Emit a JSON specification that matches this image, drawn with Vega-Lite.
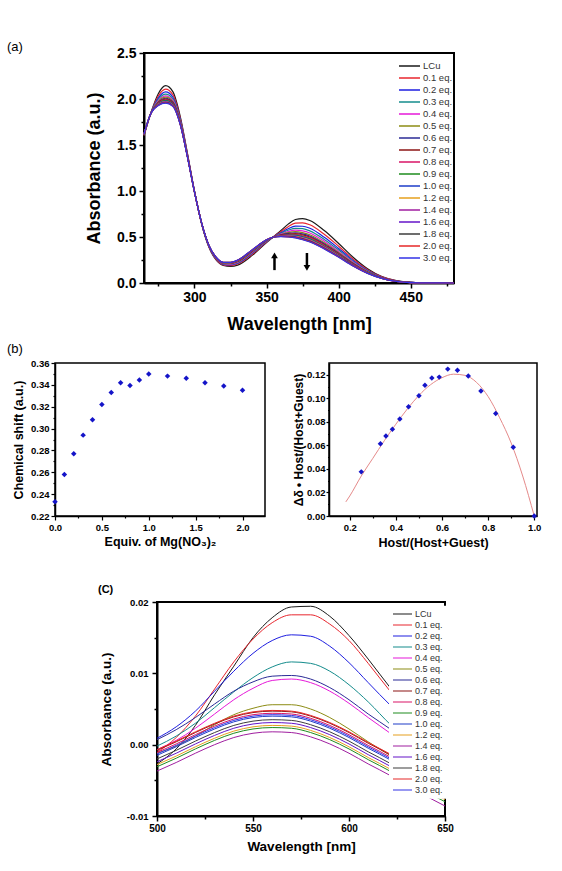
{
  "$schema": "https://vega.github.io/schema/vega-lite/v6.json",
  "padding": {"left": 5, "top": 40, "right": 5, "bottom": 5},
  "config": {
    "font": "Liberation Sans",
    "view": {"stroke": "#000"},
    "axis": {"grid": false, "labelFlush": false, "labelOverlap": false, "labelFont": "Liberation Sans", "titleFont": "Liberation Sans", "labelFontWeight": "bold", "titleFontWeight": "bold", "labelColor": "#000", "titleColor": "#000", "tickColor": "#000", "domainColor": "#000"},
    "title": {"font": "Liberation Sans", "color": "#000"},
    "legend": {"labelFont": "Liberation Sans", "labelColor": "#333"}
  },
  "datasets": {
    "uv": [
      {"s":"LCu","w":265,"a":1.6},{"s":"LCu","w":270,"a":1.86},{"s":"LCu","w":275,"a":2.06},{"s":"LCu","w":280,"a":2.145},{"s":"LCu","w":285,"a":2.08},{"s":"LCu","w":290,"a":1.82},{"s":"LCu","w":295,"a":1.42},{"s":"LCu","w":300,"a":1.0},{"s":"LCu","w":305,"a":0.64},{"s":"LCu","w":310,"a":0.39},{"s":"LCu","w":315,"a":0.25},{"s":"LCu","w":320,"a":0.19},{"s":"LCu","w":325,"a":0.18},{"s":"LCu","w":330,"a":0.195},{"s":"LCu","w":340,"a":0.3},{"s":"LCu","w":350,"a":0.44},{"s":"LCu","w":355,"a":0.505},{"s":"LCu","w":360,"a":0.57},{"s":"LCu","w":365,"a":0.64},{"s":"LCu","w":370,"a":0.69},{"s":"LCu","w":375,"a":0.7},{"s":"LCu","w":380,"a":0.68},{"s":"LCu","w":390,"a":0.57},{"s":"LCu","w":400,"a":0.43},{"s":"LCu","w":410,"a":0.28},{"s":"LCu","w":420,"a":0.155},{"s":"LCu","w":430,"a":0.07},{"s":"LCu","w":440,"a":0.025},{"s":"LCu","w":450,"a":0.007},{"s":"LCu","w":465,"a":0.001},{"s":"LCu","w":480,"a":0},
      {"s":"0.1 eq.","w":265,"a":1.604},{"s":"0.1 eq.","w":270,"a":1.858},{"s":"0.1 eq.","w":275,"a":2.034},{"s":"0.1 eq.","w":280,"a":2.107},{"s":"0.1 eq.","w":285,"a":2.048},{"s":"0.1 eq.","w":290,"a":1.802},{"s":"0.1 eq.","w":295,"a":1.412},{"s":"0.1 eq.","w":300,"a":0.998},{"s":"0.1 eq.","w":305,"a":0.642},{"s":"0.1 eq.","w":310,"a":0.394},{"s":"0.1 eq.","w":315,"a":0.256},{"s":"0.1 eq.","w":320,"a":0.197},{"s":"0.1 eq.","w":325,"a":0.189},{"s":"0.1 eq.","w":330,"a":0.206},{"s":"0.1 eq.","w":340,"a":0.312},{"s":"0.1 eq.","w":350,"a":0.446},{"s":"0.1 eq.","w":355,"a":0.504},{"s":"0.1 eq.","w":360,"a":0.557},{"s":"0.1 eq.","w":365,"a":0.612},{"s":"0.1 eq.","w":370,"a":0.65},{"s":"0.1 eq.","w":375,"a":0.654},{"s":"0.1 eq.","w":380,"a":0.633},{"s":"0.1 eq.","w":390,"a":0.53},{"s":"0.1 eq.","w":400,"a":0.4},{"s":"0.1 eq.","w":410,"a":0.261},{"s":"0.1 eq.","w":420,"a":0.145},{"s":"0.1 eq.","w":430,"a":0.066},{"s":"0.1 eq.","w":440,"a":0.024},{"s":"0.1 eq.","w":450,"a":0.007},{"s":"0.1 eq.","w":465,"a":0.001},{"s":"0.1 eq.","w":480,"a":0},
      {"s":"0.2 eq.","w":265,"a":1.607},{"s":"0.2 eq.","w":270,"a":1.856},{"s":"0.2 eq.","w":275,"a":2.013},{"s":"0.2 eq.","w":280,"a":2.077},{"s":"0.2 eq.","w":285,"a":2.022},{"s":"0.2 eq.","w":290,"a":1.788},{"s":"0.2 eq.","w":295,"a":1.406},{"s":"0.2 eq.","w":300,"a":0.996},{"s":"0.2 eq.","w":305,"a":0.644},{"s":"0.2 eq.","w":310,"a":0.397},{"s":"0.2 eq.","w":315,"a":0.261},{"s":"0.2 eq.","w":320,"a":0.203},{"s":"0.2 eq.","w":325,"a":0.196},{"s":"0.2 eq.","w":330,"a":0.215},{"s":"0.2 eq.","w":340,"a":0.322},{"s":"0.2 eq.","w":350,"a":0.451},{"s":"0.2 eq.","w":355,"a":0.503},{"s":"0.2 eq.","w":360,"a":0.547},{"s":"0.2 eq.","w":365,"a":0.59},{"s":"0.2 eq.","w":370,"a":0.618},{"s":"0.2 eq.","w":375,"a":0.617},{"s":"0.2 eq.","w":380,"a":0.595},{"s":"0.2 eq.","w":390,"a":0.498},{"s":"0.2 eq.","w":400,"a":0.376},{"s":"0.2 eq.","w":410,"a":0.246},{"s":"0.2 eq.","w":420,"a":0.137},{"s":"0.2 eq.","w":430,"a":0.063},{"s":"0.2 eq.","w":440,"a":0.022},{"s":"0.2 eq.","w":450,"a":0.006},{"s":"0.2 eq.","w":465,"a":0.001},{"s":"0.2 eq.","w":480,"a":0},
      {"s":"0.3 eq.","w":265,"a":1.61},{"s":"0.3 eq.","w":270,"a":1.855},{"s":"0.3 eq.","w":275,"a":1.998},{"s":"0.3 eq.","w":280,"a":2.054},{"s":"0.3 eq.","w":285,"a":2.003},{"s":"0.3 eq.","w":290,"a":1.777},{"s":"0.3 eq.","w":295,"a":1.401},{"s":"0.3 eq.","w":300,"a":0.995},{"s":"0.3 eq.","w":305,"a":0.645},{"s":"0.3 eq.","w":310,"a":0.4},{"s":"0.3 eq.","w":315,"a":0.264},{"s":"0.3 eq.","w":320,"a":0.207},{"s":"0.3 eq.","w":325,"a":0.202},{"s":"0.3 eq.","w":330,"a":0.221},{"s":"0.3 eq.","w":340,"a":0.329},{"s":"0.3 eq.","w":350,"a":0.454},{"s":"0.3 eq.","w":355,"a":0.503},{"s":"0.3 eq.","w":360,"a":0.539},{"s":"0.3 eq.","w":365,"a":0.573},{"s":"0.3 eq.","w":370,"a":0.594},{"s":"0.3 eq.","w":375,"a":0.59},{"s":"0.3 eq.","w":380,"a":0.567},{"s":"0.3 eq.","w":390,"a":0.474},{"s":"0.3 eq.","w":400,"a":0.358},{"s":"0.3 eq.","w":410,"a":0.234},{"s":"0.3 eq.","w":420,"a":0.131},{"s":"0.3 eq.","w":430,"a":0.06},{"s":"0.3 eq.","w":440,"a":0.022},{"s":"0.3 eq.","w":450,"a":0.006},{"s":"0.3 eq.","w":465,"a":0.001},{"s":"0.3 eq.","w":480,"a":0},
      {"s":"0.4 eq.","w":265,"a":1.612},{"s":"0.4 eq.","w":270,"a":1.854},{"s":"0.4 eq.","w":275,"a":1.985},{"s":"0.4 eq.","w":280,"a":2.035},{"s":"0.4 eq.","w":285,"a":1.987},{"s":"0.4 eq.","w":290,"a":1.768},{"s":"0.4 eq.","w":295,"a":1.397},{"s":"0.4 eq.","w":300,"a":0.994},{"s":"0.4 eq.","w":305,"a":0.646},{"s":"0.4 eq.","w":310,"a":0.402},{"s":"0.4 eq.","w":315,"a":0.267},{"s":"0.4 eq.","w":320,"a":0.21},{"s":"0.4 eq.","w":325,"a":0.206},{"s":"0.4 eq.","w":330,"a":0.227},{"s":"0.4 eq.","w":340,"a":0.335},{"s":"0.4 eq.","w":350,"a":0.457},{"s":"0.4 eq.","w":355,"a":0.502},{"s":"0.4 eq.","w":360,"a":0.532},{"s":"0.4 eq.","w":365,"a":0.559},{"s":"0.4 eq.","w":370,"a":0.574},{"s":"0.4 eq.","w":375,"a":0.567},{"s":"0.4 eq.","w":380,"a":0.544},{"s":"0.4 eq.","w":390,"a":0.454},{"s":"0.4 eq.","w":400,"a":0.343},{"s":"0.4 eq.","w":410,"a":0.225},{"s":"0.4 eq.","w":420,"a":0.126},{"s":"0.4 eq.","w":430,"a":0.058},{"s":"0.4 eq.","w":440,"a":0.021},{"s":"0.4 eq.","w":450,"a":0.006},{"s":"0.4 eq.","w":465,"a":0.001},{"s":"0.4 eq.","w":480,"a":0},
      {"s":"0.5 eq.","w":265,"a":1.613},{"s":"0.5 eq.","w":270,"a":1.853},{"s":"0.5 eq.","w":275,"a":1.974},{"s":"0.5 eq.","w":280,"a":2.02},{"s":"0.5 eq.","w":285,"a":1.974},{"s":"0.5 eq.","w":290,"a":1.761},{"s":"0.5 eq.","w":295,"a":1.394},{"s":"0.5 eq.","w":300,"a":0.993},{"s":"0.5 eq.","w":305,"a":0.647},{"s":"0.5 eq.","w":310,"a":0.403},{"s":"0.5 eq.","w":315,"a":0.27},{"s":"0.5 eq.","w":320,"a":0.213},{"s":"0.5 eq.","w":325,"a":0.21},{"s":"0.5 eq.","w":330,"a":0.231},{"s":"0.5 eq.","w":340,"a":0.34},{"s":"0.5 eq.","w":350,"a":0.46},{"s":"0.5 eq.","w":355,"a":0.502},{"s":"0.5 eq.","w":360,"a":0.527},{"s":"0.5 eq.","w":365,"a":0.548},{"s":"0.5 eq.","w":370,"a":0.558},{"s":"0.5 eq.","w":375,"a":0.548},{"s":"0.5 eq.","w":380,"a":0.525},{"s":"0.5 eq.","w":390,"a":0.438},{"s":"0.5 eq.","w":400,"a":0.331},{"s":"0.5 eq.","w":410,"a":0.217},{"s":"0.5 eq.","w":420,"a":0.122},{"s":"0.5 eq.","w":430,"a":0.057},{"s":"0.5 eq.","w":440,"a":0.02},{"s":"0.5 eq.","w":450,"a":0.006},{"s":"0.5 eq.","w":465,"a":0.001},{"s":"0.5 eq.","w":480,"a":0},
      {"s":"0.6 eq.","w":265,"a":1.614},{"s":"0.6 eq.","w":270,"a":1.853},{"s":"0.6 eq.","w":275,"a":1.966},{"s":"0.6 eq.","w":280,"a":2.008},{"s":"0.6 eq.","w":285,"a":1.965},{"s":"0.6 eq.","w":290,"a":1.755},{"s":"0.6 eq.","w":295,"a":1.391},{"s":"0.6 eq.","w":300,"a":0.993},{"s":"0.6 eq.","w":305,"a":0.647},{"s":"0.6 eq.","w":310,"a":0.404},{"s":"0.6 eq.","w":315,"a":0.272},{"s":"0.6 eq.","w":320,"a":0.215},{"s":"0.6 eq.","w":325,"a":0.212},{"s":"0.6 eq.","w":330,"a":0.235},{"s":"0.6 eq.","w":340,"a":0.343},{"s":"0.6 eq.","w":350,"a":0.462},{"s":"0.6 eq.","w":355,"a":0.501},{"s":"0.6 eq.","w":360,"a":0.523},{"s":"0.6 eq.","w":365,"a":0.539},{"s":"0.6 eq.","w":370,"a":0.546},{"s":"0.6 eq.","w":375,"a":0.534},{"s":"0.6 eq.","w":380,"a":0.511},{"s":"0.6 eq.","w":390,"a":0.426},{"s":"0.6 eq.","w":400,"a":0.322},{"s":"0.6 eq.","w":410,"a":0.212},{"s":"0.6 eq.","w":420,"a":0.119},{"s":"0.6 eq.","w":430,"a":0.056},{"s":"0.6 eq.","w":440,"a":0.02},{"s":"0.6 eq.","w":450,"a":0.006},{"s":"0.6 eq.","w":465,"a":0.001},{"s":"0.6 eq.","w":480,"a":0},
      {"s":"0.7 eq.","w":265,"a":1.615},{"s":"0.7 eq.","w":270,"a":1.852},{"s":"0.7 eq.","w":275,"a":1.96},{"s":"0.7 eq.","w":280,"a":1.999},{"s":"0.7 eq.","w":285,"a":1.957},{"s":"0.7 eq.","w":290,"a":1.751},{"s":"0.7 eq.","w":295,"a":1.389},{"s":"0.7 eq.","w":300,"a":0.992},{"s":"0.7 eq.","w":305,"a":0.648},{"s":"0.7 eq.","w":310,"a":0.405},{"s":"0.7 eq.","w":315,"a":0.273},{"s":"0.7 eq.","w":320,"a":0.217},{"s":"0.7 eq.","w":325,"a":0.215},{"s":"0.7 eq.","w":330,"a":0.237},{"s":"0.7 eq.","w":340,"a":0.346},{"s":"0.7 eq.","w":350,"a":0.463},{"s":"0.7 eq.","w":355,"a":0.501},{"s":"0.7 eq.","w":360,"a":0.52},{"s":"0.7 eq.","w":365,"a":0.532},{"s":"0.7 eq.","w":370,"a":0.536},{"s":"0.7 eq.","w":375,"a":0.523},{"s":"0.7 eq.","w":380,"a":0.499},{"s":"0.7 eq.","w":390,"a":0.416},{"s":"0.7 eq.","w":400,"a":0.315},{"s":"0.7 eq.","w":410,"a":0.207},{"s":"0.7 eq.","w":420,"a":0.117},{"s":"0.7 eq.","w":430,"a":0.055},{"s":"0.7 eq.","w":440,"a":0.02},{"s":"0.7 eq.","w":450,"a":0.005},{"s":"0.7 eq.","w":465,"a":0.001},{"s":"0.7 eq.","w":480,"a":0},
      {"s":"0.8 eq.","w":265,"a":1.616},{"s":"0.8 eq.","w":270,"a":1.852},{"s":"0.8 eq.","w":275,"a":1.955},{"s":"0.8 eq.","w":280,"a":1.991},{"s":"0.8 eq.","w":285,"a":1.95},{"s":"0.8 eq.","w":290,"a":1.747},{"s":"0.8 eq.","w":295,"a":1.388},{"s":"0.8 eq.","w":300,"a":0.992},{"s":"0.8 eq.","w":305,"a":0.648},{"s":"0.8 eq.","w":310,"a":0.406},{"s":"0.8 eq.","w":315,"a":0.274},{"s":"0.8 eq.","w":320,"a":0.218},{"s":"0.8 eq.","w":325,"a":0.216},{"s":"0.8 eq.","w":330,"a":0.24},{"s":"0.8 eq.","w":340,"a":0.349},{"s":"0.8 eq.","w":350,"a":0.464},{"s":"0.8 eq.","w":355,"a":0.501},{"s":"0.8 eq.","w":360,"a":0.517},{"s":"0.8 eq.","w":365,"a":0.527},{"s":"0.8 eq.","w":370,"a":0.528},{"s":"0.8 eq.","w":375,"a":0.514},{"s":"0.8 eq.","w":380,"a":0.49},{"s":"0.8 eq.","w":390,"a":0.408},{"s":"0.8 eq.","w":400,"a":0.309},{"s":"0.8 eq.","w":410,"a":0.203},{"s":"0.8 eq.","w":420,"a":0.115},{"s":"0.8 eq.","w":430,"a":0.054},{"s":"0.8 eq.","w":440,"a":0.019},{"s":"0.8 eq.","w":450,"a":0.005},{"s":"0.8 eq.","w":465,"a":0.001},{"s":"0.8 eq.","w":480,"a":0},
      {"s":"0.9 eq.","w":265,"a":1.617},{"s":"0.9 eq.","w":270,"a":1.852},{"s":"0.9 eq.","w":275,"a":1.95},{"s":"0.9 eq.","w":280,"a":1.984},{"s":"0.9 eq.","w":285,"a":1.944},{"s":"0.9 eq.","w":290,"a":1.744},{"s":"0.9 eq.","w":295,"a":1.386},{"s":"0.9 eq.","w":300,"a":0.992},{"s":"0.9 eq.","w":305,"a":0.649},{"s":"0.9 eq.","w":310,"a":0.407},{"s":"0.9 eq.","w":315,"a":0.276},{"s":"0.9 eq.","w":320,"a":0.22},{"s":"0.9 eq.","w":325,"a":0.218},{"s":"0.9 eq.","w":330,"a":0.242},{"s":"0.9 eq.","w":340,"a":0.351},{"s":"0.9 eq.","w":350,"a":0.466},{"s":"0.9 eq.","w":355,"a":0.501},{"s":"0.9 eq.","w":360,"a":0.515},{"s":"0.9 eq.","w":365,"a":0.521},{"s":"0.9 eq.","w":370,"a":0.52},{"s":"0.9 eq.","w":375,"a":0.505},{"s":"0.9 eq.","w":380,"a":0.48},{"s":"0.9 eq.","w":390,"a":0.4},{"s":"0.9 eq.","w":400,"a":0.303},{"s":"0.9 eq.","w":410,"a":0.199},{"s":"0.9 eq.","w":420,"a":0.113},{"s":"0.9 eq.","w":430,"a":0.053},{"s":"0.9 eq.","w":440,"a":0.019},{"s":"0.9 eq.","w":450,"a":0.005},{"s":"0.9 eq.","w":465,"a":0.001},{"s":"0.9 eq.","w":480,"a":0},
      {"s":"1.0 eq.","w":265,"a":1.618},{"s":"1.0 eq.","w":270,"a":1.851},{"s":"1.0 eq.","w":275,"a":1.946},{"s":"1.0 eq.","w":280,"a":1.978},{"s":"1.0 eq.","w":285,"a":1.939},{"s":"1.0 eq.","w":290,"a":1.741},{"s":"1.0 eq.","w":295,"a":1.385},{"s":"1.0 eq.","w":300,"a":0.991},{"s":"1.0 eq.","w":305,"a":0.649},{"s":"1.0 eq.","w":310,"a":0.408},{"s":"1.0 eq.","w":315,"a":0.276},{"s":"1.0 eq.","w":320,"a":0.221},{"s":"1.0 eq.","w":325,"a":0.22},{"s":"1.0 eq.","w":330,"a":0.243},{"s":"1.0 eq.","w":340,"a":0.353},{"s":"1.0 eq.","w":350,"a":0.466},{"s":"1.0 eq.","w":355,"a":0.501},{"s":"1.0 eq.","w":360,"a":0.513},{"s":"1.0 eq.","w":365,"a":0.517},{"s":"1.0 eq.","w":370,"a":0.514},{"s":"1.0 eq.","w":375,"a":0.498},{"s":"1.0 eq.","w":380,"a":0.473},{"s":"1.0 eq.","w":390,"a":0.394},{"s":"1.0 eq.","w":400,"a":0.298},{"s":"1.0 eq.","w":410,"a":0.196},{"s":"1.0 eq.","w":420,"a":0.111},{"s":"1.0 eq.","w":430,"a":0.052},{"s":"1.0 eq.","w":440,"a":0.019},{"s":"1.0 eq.","w":450,"a":0.005},{"s":"1.0 eq.","w":465,"a":0.001},{"s":"1.0 eq.","w":480,"a":0},
      {"s":"1.2 eq.","w":265,"a":1.618},{"s":"1.2 eq.","w":270,"a":1.851},{"s":"1.2 eq.","w":275,"a":1.942},{"s":"1.2 eq.","w":280,"a":1.972},{"s":"1.2 eq.","w":285,"a":1.934},{"s":"1.2 eq.","w":290,"a":1.738},{"s":"1.2 eq.","w":295,"a":1.384},{"s":"1.2 eq.","w":300,"a":0.991},{"s":"1.2 eq.","w":305,"a":0.649},{"s":"1.2 eq.","w":310,"a":0.408},{"s":"1.2 eq.","w":315,"a":0.277},{"s":"1.2 eq.","w":320,"a":0.222},{"s":"1.2 eq.","w":325,"a":0.221},{"s":"1.2 eq.","w":330,"a":0.245},{"s":"1.2 eq.","w":340,"a":0.355},{"s":"1.2 eq.","w":350,"a":0.467},{"s":"1.2 eq.","w":355,"a":0.5},{"s":"1.2 eq.","w":360,"a":0.511},{"s":"1.2 eq.","w":365,"a":0.513},{"s":"1.2 eq.","w":370,"a":0.508},{"s":"1.2 eq.","w":375,"a":0.491},{"s":"1.2 eq.","w":380,"a":0.466},{"s":"1.2 eq.","w":390,"a":0.388},{"s":"1.2 eq.","w":400,"a":0.294},{"s":"1.2 eq.","w":410,"a":0.194},{"s":"1.2 eq.","w":420,"a":0.11},{"s":"1.2 eq.","w":430,"a":0.052},{"s":"1.2 eq.","w":440,"a":0.019},{"s":"1.2 eq.","w":450,"a":0.005},{"s":"1.2 eq.","w":465,"a":0.001},{"s":"1.2 eq.","w":480,"a":0},
      {"s":"1.4 eq.","w":265,"a":1.619},{"s":"1.4 eq.","w":270,"a":1.851},{"s":"1.4 eq.","w":275,"a":1.939},{"s":"1.4 eq.","w":280,"a":1.968},{"s":"1.4 eq.","w":285,"a":1.931},{"s":"1.4 eq.","w":290,"a":1.736},{"s":"1.4 eq.","w":295,"a":1.383},{"s":"1.4 eq.","w":300,"a":0.991},{"s":"1.4 eq.","w":305,"a":0.649},{"s":"1.4 eq.","w":310,"a":0.409},{"s":"1.4 eq.","w":315,"a":0.278},{"s":"1.4 eq.","w":320,"a":0.223},{"s":"1.4 eq.","w":325,"a":0.222},{"s":"1.4 eq.","w":330,"a":0.246},{"s":"1.4 eq.","w":340,"a":0.356},{"s":"1.4 eq.","w":350,"a":0.468},{"s":"1.4 eq.","w":355,"a":0.5},{"s":"1.4 eq.","w":360,"a":0.51},{"s":"1.4 eq.","w":365,"a":0.51},{"s":"1.4 eq.","w":370,"a":0.504},{"s":"1.4 eq.","w":375,"a":0.486},{"s":"1.4 eq.","w":380,"a":0.461},{"s":"1.4 eq.","w":390,"a":0.384},{"s":"1.4 eq.","w":400,"a":0.291},{"s":"1.4 eq.","w":410,"a":0.192},{"s":"1.4 eq.","w":420,"a":0.109},{"s":"1.4 eq.","w":430,"a":0.051},{"s":"1.4 eq.","w":440,"a":0.018},{"s":"1.4 eq.","w":450,"a":0.005},{"s":"1.4 eq.","w":465,"a":0.001},{"s":"1.4 eq.","w":480,"a":0},
      {"s":"1.6 eq.","w":265,"a":1.619},{"s":"1.6 eq.","w":270,"a":1.851},{"s":"1.6 eq.","w":275,"a":1.937},{"s":"1.6 eq.","w":280,"a":1.965},{"s":"1.6 eq.","w":285,"a":1.928},{"s":"1.6 eq.","w":290,"a":1.735},{"s":"1.6 eq.","w":295,"a":1.382},{"s":"1.6 eq.","w":300,"a":0.991},{"s":"1.6 eq.","w":305,"a":0.65},{"s":"1.6 eq.","w":310,"a":0.409},{"s":"1.6 eq.","w":315,"a":0.279},{"s":"1.6 eq.","w":320,"a":0.223},{"s":"1.6 eq.","w":325,"a":0.223},{"s":"1.6 eq.","w":330,"a":0.247},{"s":"1.6 eq.","w":340,"a":0.357},{"s":"1.6 eq.","w":350,"a":0.469},{"s":"1.6 eq.","w":355,"a":0.5},{"s":"1.6 eq.","w":360,"a":0.508},{"s":"1.6 eq.","w":365,"a":0.507},{"s":"1.6 eq.","w":370,"a":0.5},{"s":"1.6 eq.","w":375,"a":0.482},{"s":"1.6 eq.","w":380,"a":0.457},{"s":"1.6 eq.","w":390,"a":0.38},{"s":"1.6 eq.","w":400,"a":0.288},{"s":"1.6 eq.","w":410,"a":0.19},{"s":"1.6 eq.","w":420,"a":0.108},{"s":"1.6 eq.","w":430,"a":0.051},{"s":"1.6 eq.","w":440,"a":0.018},{"s":"1.6 eq.","w":450,"a":0.005},{"s":"1.6 eq.","w":465,"a":0.001},{"s":"1.6 eq.","w":480,"a":0},
      {"s":"1.8 eq.","w":265,"a":1.619},{"s":"1.8 eq.","w":270,"a":1.85},{"s":"1.8 eq.","w":275,"a":1.934},{"s":"1.8 eq.","w":280,"a":1.961},{"s":"1.8 eq.","w":285,"a":1.925},{"s":"1.8 eq.","w":290,"a":1.733},{"s":"1.8 eq.","w":295,"a":1.381},{"s":"1.8 eq.","w":300,"a":0.99},{"s":"1.8 eq.","w":305,"a":0.65},{"s":"1.8 eq.","w":310,"a":0.409},{"s":"1.8 eq.","w":315,"a":0.279},{"s":"1.8 eq.","w":320,"a":0.224},{"s":"1.8 eq.","w":325,"a":0.224},{"s":"1.8 eq.","w":330,"a":0.248},{"s":"1.8 eq.","w":340,"a":0.358},{"s":"1.8 eq.","w":350,"a":0.469},{"s":"1.8 eq.","w":355,"a":0.5},{"s":"1.8 eq.","w":360,"a":0.507},{"s":"1.8 eq.","w":365,"a":0.504},{"s":"1.8 eq.","w":370,"a":0.496},{"s":"1.8 eq.","w":375,"a":0.477},{"s":"1.8 eq.","w":380,"a":0.452},{"s":"1.8 eq.","w":390,"a":0.376},{"s":"1.8 eq.","w":400,"a":0.285},{"s":"1.8 eq.","w":410,"a":0.188},{"s":"1.8 eq.","w":420,"a":0.107},{"s":"1.8 eq.","w":430,"a":0.051},{"s":"1.8 eq.","w":440,"a":0.018},{"s":"1.8 eq.","w":450,"a":0.005},{"s":"1.8 eq.","w":465,"a":0.001},{"s":"1.8 eq.","w":480,"a":0},
      {"s":"2.0 eq.","w":265,"a":1.62},{"s":"2.0 eq.","w":270,"a":1.85},{"s":"2.0 eq.","w":275,"a":1.932},{"s":"2.0 eq.","w":280,"a":1.958},{"s":"2.0 eq.","w":285,"a":1.922},{"s":"2.0 eq.","w":290,"a":1.731},{"s":"2.0 eq.","w":295,"a":1.381},{"s":"2.0 eq.","w":300,"a":0.99},{"s":"2.0 eq.","w":305,"a":0.65},{"s":"2.0 eq.","w":310,"a":0.41},{"s":"2.0 eq.","w":315,"a":0.28},{"s":"2.0 eq.","w":320,"a":0.224},{"s":"2.0 eq.","w":325,"a":0.224},{"s":"2.0 eq.","w":330,"a":0.249},{"s":"2.0 eq.","w":340,"a":0.359},{"s":"2.0 eq.","w":350,"a":0.47},{"s":"2.0 eq.","w":355,"a":0.5},{"s":"2.0 eq.","w":360,"a":0.506},{"s":"2.0 eq.","w":365,"a":0.502},{"s":"2.0 eq.","w":370,"a":0.493},{"s":"2.0 eq.","w":375,"a":0.473},{"s":"2.0 eq.","w":380,"a":0.449},{"s":"2.0 eq.","w":390,"a":0.373},{"s":"2.0 eq.","w":400,"a":0.282},{"s":"2.0 eq.","w":410,"a":0.186},{"s":"2.0 eq.","w":420,"a":0.106},{"s":"2.0 eq.","w":430,"a":0.05},{"s":"2.0 eq.","w":440,"a":0.018},{"s":"2.0 eq.","w":450,"a":0.005},{"s":"2.0 eq.","w":465,"a":0.001},{"s":"2.0 eq.","w":480,"a":0},
      {"s":"3.0 eq.","w":265,"a":1.62},{"s":"3.0 eq.","w":270,"a":1.85},{"s":"3.0 eq.","w":275,"a":1.93},{"s":"3.0 eq.","w":280,"a":1.955},{"s":"3.0 eq.","w":285,"a":1.92},{"s":"3.0 eq.","w":290,"a":1.73},{"s":"3.0 eq.","w":295,"a":1.38},{"s":"3.0 eq.","w":300,"a":0.99},{"s":"3.0 eq.","w":305,"a":0.65},{"s":"3.0 eq.","w":310,"a":0.41},{"s":"3.0 eq.","w":315,"a":0.28},{"s":"3.0 eq.","w":320,"a":0.225},{"s":"3.0 eq.","w":325,"a":0.225},{"s":"3.0 eq.","w":330,"a":0.25},{"s":"3.0 eq.","w":340,"a":0.36},{"s":"3.0 eq.","w":350,"a":0.47},{"s":"3.0 eq.","w":355,"a":0.5},{"s":"3.0 eq.","w":360,"a":0.505},{"s":"3.0 eq.","w":365,"a":0.5},{"s":"3.0 eq.","w":370,"a":0.49},{"s":"3.0 eq.","w":375,"a":0.47},{"s":"3.0 eq.","w":380,"a":0.445},{"s":"3.0 eq.","w":390,"a":0.37},{"s":"3.0 eq.","w":400,"a":0.28},{"s":"3.0 eq.","w":410,"a":0.185},{"s":"3.0 eq.","w":420,"a":0.105},{"s":"3.0 eq.","w":430,"a":0.05},{"s":"3.0 eq.","w":440,"a":0.018},{"s":"3.0 eq.","w":450,"a":0.005},{"s":"3.0 eq.","w":465,"a":0.001},{"s":"3.0 eq.","w":480,"a":0}
    ],
    "shafts": [{"w":355.5,"a":0.14,"a2":0.29},{"w":378,"a":0.18,"a2":0.326}],
    "heads": [{"w":355.5,"a":0.3,"dir":"up"},{"w":378,"a":0.165,"dir":"down"}],
    "titration": [
      {"eq":0.0,"shift":0.233},{"eq":0.1,"shift":0.258},{"eq":0.2,"shift":0.277},{"eq":0.3,"shift":0.294},{"eq":0.4,"shift":0.308},{"eq":0.5,"shift":0.322},{"eq":0.6,"shift":0.333},{"eq":0.7,"shift":0.342},{"eq":0.8,"shift":0.3395},{"eq":0.9,"shift":0.3445},{"eq":1.0,"shift":0.35},{"eq":1.2,"shift":0.348},{"eq":1.4,"shift":0.346},{"eq":1.6,"shift":0.342},{"eq":1.8,"shift":0.339},{"eq":2.0,"shift":0.335}
    ],
    "job": [
      {"xh":0.25,"v":0.0375},{"xh":0.333,"v":0.0613},{"xh":0.357,"v":0.068},{"xh":0.385,"v":0.0737},{"xh":0.417,"v":0.0824},{"xh":0.455,"v":0.0929},{"xh":0.5,"v":0.1022},{"xh":0.526,"v":0.111},{"xh":0.556,"v":0.1172},{"xh":0.588,"v":0.118},{"xh":0.625,"v":0.1248},{"xh":0.667,"v":0.1239},{"xh":0.714,"v":0.1189},{"xh":0.769,"v":0.1062},{"xh":0.833,"v":0.087},{"xh":0.909,"v":0.0584},{"xh":1.0,"v":0.0}
    ],
    "jobfit": [
      {"xh":0.183,"v":0.012},{"xh":0.2,"v":0.017},{"xh":0.25,"v":0.034},{"xh":0.3,"v":0.049},{"xh":0.35,"v":0.064},{"xh":0.4,"v":0.078},{"xh":0.45,"v":0.091},{"xh":0.5,"v":0.1025},{"xh":0.55,"v":0.1115},{"xh":0.6,"v":0.1175},{"xh":0.65,"v":0.1205},{"xh":0.7,"v":0.1195},{"xh":0.75,"v":0.1135},{"xh":0.8,"v":0.1015},{"xh":0.85,"v":0.0835},{"xh":0.9,"v":0.062},{"xh":0.95,"v":0.034},{"xh":1.0,"v":0.0}
    ],
    "vis": [
      {"s":"LCu","w":500,"a":-0.0027},{"s":"LCu","w":510,"a":-0.0006},{"s":"LCu","w":520,"a":0.0027},{"s":"LCu","w":530,"a":0.007},{"s":"LCu","w":540,"a":0.011},{"s":"LCu","w":550,"a":0.015},{"s":"LCu","w":560,"a":0.0178},{"s":"LCu","w":570,"a":0.0193},{"s":"LCu","w":580,"a":0.0194},{"s":"LCu","w":590,"a":0.018},{"s":"LCu","w":600,"a":0.0153},{"s":"LCu","w":610,"a":0.012},{"s":"LCu","w":622,"a":0.0078},{"s":"LCu","w":630,"a":0.0052},{"s":"LCu","w":640,"a":0.0025},{"s":"LCu","w":650,"a":0.0003},
      {"s":"0.1 eq.","w":500,"a":-0.0011},{"s":"0.1 eq.","w":510,"a":0.001},{"s":"0.1 eq.","w":520,"a":0.004},{"s":"0.1 eq.","w":530,"a":0.0078},{"s":"0.1 eq.","w":540,"a":0.0116},{"s":"0.1 eq.","w":550,"a":0.0148},{"s":"0.1 eq.","w":560,"a":0.0171},{"s":"0.1 eq.","w":570,"a":0.0182},{"s":"0.1 eq.","w":580,"a":0.0182},{"s":"0.1 eq.","w":590,"a":0.0169},{"s":"0.1 eq.","w":600,"a":0.0146},{"s":"0.1 eq.","w":610,"a":0.0114},{"s":"0.1 eq.","w":622,"a":0.0073},{"s":"0.1 eq.","w":630,"a":0.0048},{"s":"0.1 eq.","w":640,"a":0.0022},{"s":"0.1 eq.","w":650,"a":0.0},
      {"s":"0.2 eq.","w":500,"a":0.0009},{"s":"0.2 eq.","w":510,"a":0.0025},{"s":"0.2 eq.","w":520,"a":0.0047},{"s":"0.2 eq.","w":530,"a":0.0075},{"s":"0.2 eq.","w":540,"a":0.0103},{"s":"0.2 eq.","w":550,"a":0.0128},{"s":"0.2 eq.","w":560,"a":0.0146},{"s":"0.2 eq.","w":570,"a":0.0154},{"s":"0.2 eq.","w":580,"a":0.0152},{"s":"0.2 eq.","w":590,"a":0.0138},{"s":"0.2 eq.","w":600,"a":0.0115},{"s":"0.2 eq.","w":610,"a":0.0087},{"s":"0.2 eq.","w":622,"a":0.0054},{"s":"0.2 eq.","w":630,"a":0.0034},{"s":"0.2 eq.","w":640,"a":0.0012},{"s":"0.2 eq.","w":650,"a":-0.0008},
      {"s":"0.3 eq.","w":500,"a":-0.0002},{"s":"0.3 eq.","w":510,"a":0.0012},{"s":"0.3 eq.","w":520,"a":0.003},{"s":"0.3 eq.","w":530,"a":0.0052},{"s":"0.3 eq.","w":540,"a":0.0074},{"s":"0.3 eq.","w":550,"a":0.0094},{"s":"0.3 eq.","w":560,"a":0.0109},{"s":"0.3 eq.","w":570,"a":0.0116},{"s":"0.3 eq.","w":580,"a":0.0114},{"s":"0.3 eq.","w":590,"a":0.0103},{"s":"0.3 eq.","w":600,"a":0.0084},{"s":"0.3 eq.","w":610,"a":0.006},{"s":"0.3 eq.","w":622,"a":0.0027},{"s":"0.3 eq.","w":630,"a":0.0008},{"s":"0.3 eq.","w":640,"a":-0.0012},{"s":"0.3 eq.","w":650,"a":-0.003},
      {"s":"0.4 eq.","w":500,"a":-0.0007},{"s":"0.4 eq.","w":510,"a":0.0006},{"s":"0.4 eq.","w":520,"a":0.0023},{"s":"0.4 eq.","w":530,"a":0.0043},{"s":"0.4 eq.","w":540,"a":0.0063},{"s":"0.4 eq.","w":550,"a":0.0079},{"s":"0.4 eq.","w":560,"a":0.009},{"s":"0.4 eq.","w":570,"a":0.0092},{"s":"0.4 eq.","w":580,"a":0.0087},{"s":"0.4 eq.","w":590,"a":0.0075},{"s":"0.4 eq.","w":600,"a":0.0058},{"s":"0.4 eq.","w":610,"a":0.0038},{"s":"0.4 eq.","w":622,"a":0.0015},{"s":"0.4 eq.","w":630,"a":-0.0001},{"s":"0.4 eq.","w":640,"a":-0.0018},{"s":"0.4 eq.","w":650,"a":-0.0034},
      {"s":"0.5 eq.","w":500,"a":-0.0012},{"s":"0.5 eq.","w":510,"a":-0.0002},{"s":"0.5 eq.","w":520,"a":0.0012},{"s":"0.5 eq.","w":530,"a":0.0028},{"s":"0.5 eq.","w":540,"a":0.0042},{"s":"0.5 eq.","w":550,"a":0.0051},{"s":"0.5 eq.","w":560,"a":0.0056},{"s":"0.5 eq.","w":570,"a":0.0056},{"s":"0.5 eq.","w":580,"a":0.005},{"s":"0.5 eq.","w":590,"a":0.0038},{"s":"0.5 eq.","w":600,"a":0.0022},{"s":"0.5 eq.","w":610,"a":0.0004},{"s":"0.5 eq.","w":622,"a":-0.0016},{"s":"0.5 eq.","w":630,"a":-0.0029},{"s":"0.5 eq.","w":640,"a":-0.0045},{"s":"0.5 eq.","w":650,"a":-0.0058},
      {"s":"0.6 eq.","w":500,"a":0.0007},{"s":"0.6 eq.","w":510,"a":0.0021},{"s":"0.6 eq.","w":520,"a":0.0038},{"s":"0.6 eq.","w":530,"a":0.0057},{"s":"0.6 eq.","w":540,"a":0.0075},{"s":"0.6 eq.","w":550,"a":0.0088},{"s":"0.6 eq.","w":560,"a":0.0096},{"s":"0.6 eq.","w":570,"a":0.0097},{"s":"0.6 eq.","w":580,"a":0.0092},{"s":"0.6 eq.","w":590,"a":0.008},{"s":"0.6 eq.","w":600,"a":0.0063},{"s":"0.6 eq.","w":610,"a":0.0043},{"s":"0.6 eq.","w":622,"a":0.0021},{"s":"0.6 eq.","w":630,"a":0.0005},{"s":"0.6 eq.","w":640,"a":-0.0012},{"s":"0.6 eq.","w":650,"a":-0.0028},
      {"s":"0.7 eq.","w":500,"a":-0.0008},{"s":"0.7 eq.","w":510,"a":0.0004},{"s":"0.7 eq.","w":520,"a":0.0017},{"s":"0.7 eq.","w":530,"a":0.0029},{"s":"0.7 eq.","w":540,"a":0.0039},{"s":"0.7 eq.","w":550,"a":0.0045},{"s":"0.7 eq.","w":560,"a":0.0047},{"s":"0.7 eq.","w":570,"a":0.0046},{"s":"0.7 eq.","w":580,"a":0.004},{"s":"0.7 eq.","w":590,"a":0.003},{"s":"0.7 eq.","w":600,"a":0.0017},{"s":"0.7 eq.","w":610,"a":0.0002},{"s":"0.7 eq.","w":622,"a":-0.0015},{"s":"0.7 eq.","w":630,"a":-0.0028},{"s":"0.7 eq.","w":640,"a":-0.0043},{"s":"0.7 eq.","w":650,"a":-0.0057},
      {"s":"0.8 eq.","w":500,"a":-0.0011},{"s":"0.8 eq.","w":510,"a":0.0001},{"s":"0.8 eq.","w":520,"a":0.0014},{"s":"0.8 eq.","w":530,"a":0.0026},{"s":"0.8 eq.","w":540,"a":0.0036},{"s":"0.8 eq.","w":550,"a":0.0042},{"s":"0.8 eq.","w":560,"a":0.0044},{"s":"0.8 eq.","w":570,"a":0.0043},{"s":"0.8 eq.","w":580,"a":0.0037},{"s":"0.8 eq.","w":590,"a":0.0027},{"s":"0.8 eq.","w":600,"a":0.0014},{"s":"0.8 eq.","w":610,"a":-0.0001},{"s":"0.8 eq.","w":622,"a":-0.0018},{"s":"0.8 eq.","w":630,"a":-0.0031},{"s":"0.8 eq.","w":640,"a":-0.0046},{"s":"0.8 eq.","w":650,"a":-0.006},
      {"s":"0.9 eq.","w":500,"a":-0.0031},{"s":"0.9 eq.","w":510,"a":-0.0019},{"s":"0.9 eq.","w":520,"a":-0.0006},{"s":"0.9 eq.","w":530,"a":0.0006},{"s":"0.9 eq.","w":540,"a":0.0016},{"s":"0.9 eq.","w":550,"a":0.0022},{"s":"0.9 eq.","w":560,"a":0.0024},{"s":"0.9 eq.","w":570,"a":0.0023},{"s":"0.9 eq.","w":580,"a":0.0017},{"s":"0.9 eq.","w":590,"a":0.0007},{"s":"0.9 eq.","w":600,"a":-0.0006},{"s":"0.9 eq.","w":610,"a":-0.0021},{"s":"0.9 eq.","w":622,"a":-0.0038},{"s":"0.9 eq.","w":630,"a":-0.0051},{"s":"0.9 eq.","w":640,"a":-0.0066},{"s":"0.9 eq.","w":650,"a":-0.008},
      {"s":"1.0 eq.","w":500,"a":-0.0015},{"s":"1.0 eq.","w":510,"a":-0.0003},{"s":"1.0 eq.","w":520,"a":0.001},{"s":"1.0 eq.","w":530,"a":0.0022},{"s":"1.0 eq.","w":540,"a":0.0032},{"s":"1.0 eq.","w":550,"a":0.0038},{"s":"1.0 eq.","w":560,"a":0.004},{"s":"1.0 eq.","w":570,"a":0.0039},{"s":"1.0 eq.","w":580,"a":0.0033},{"s":"1.0 eq.","w":590,"a":0.0023},{"s":"1.0 eq.","w":600,"a":0.001},{"s":"1.0 eq.","w":610,"a":-0.0005},{"s":"1.0 eq.","w":622,"a":-0.0022},{"s":"1.0 eq.","w":630,"a":-0.0035},{"s":"1.0 eq.","w":640,"a":-0.005},{"s":"1.0 eq.","w":650,"a":-0.0064},
      {"s":"1.2 eq.","w":500,"a":-0.0028},{"s":"1.2 eq.","w":510,"a":-0.0016},{"s":"1.2 eq.","w":520,"a":-0.0003},{"s":"1.2 eq.","w":530,"a":0.0009},{"s":"1.2 eq.","w":540,"a":0.0019},{"s":"1.2 eq.","w":550,"a":0.0025},{"s":"1.2 eq.","w":560,"a":0.0027},{"s":"1.2 eq.","w":570,"a":0.0026},{"s":"1.2 eq.","w":580,"a":0.002},{"s":"1.2 eq.","w":590,"a":0.001},{"s":"1.2 eq.","w":600,"a":-0.0003},{"s":"1.2 eq.","w":610,"a":-0.0018},{"s":"1.2 eq.","w":622,"a":-0.0035},{"s":"1.2 eq.","w":630,"a":-0.0048},{"s":"1.2 eq.","w":640,"a":-0.0063},{"s":"1.2 eq.","w":650,"a":-0.0077},
      {"s":"1.4 eq.","w":500,"a":-0.0037},{"s":"1.4 eq.","w":510,"a":-0.0025},{"s":"1.4 eq.","w":520,"a":-0.0012},{"s":"1.4 eq.","w":530,"a":0.0},{"s":"1.4 eq.","w":540,"a":0.001},{"s":"1.4 eq.","w":550,"a":0.0016},{"s":"1.4 eq.","w":560,"a":0.0018},{"s":"1.4 eq.","w":570,"a":0.0017},{"s":"1.4 eq.","w":580,"a":0.0011},{"s":"1.4 eq.","w":590,"a":0.0001},{"s":"1.4 eq.","w":600,"a":-0.0012},{"s":"1.4 eq.","w":610,"a":-0.0027},{"s":"1.4 eq.","w":622,"a":-0.0044},{"s":"1.4 eq.","w":630,"a":-0.0057},{"s":"1.4 eq.","w":640,"a":-0.0072},{"s":"1.4 eq.","w":650,"a":-0.0086},
      {"s":"1.6 eq.","w":500,"a":-0.0024},{"s":"1.6 eq.","w":510,"a":-0.0012},{"s":"1.6 eq.","w":520,"a":0.0001},{"s":"1.6 eq.","w":530,"a":0.0013},{"s":"1.6 eq.","w":540,"a":0.0023},{"s":"1.6 eq.","w":550,"a":0.0029},{"s":"1.6 eq.","w":560,"a":0.0031},{"s":"1.6 eq.","w":570,"a":0.003},{"s":"1.6 eq.","w":580,"a":0.0024},{"s":"1.6 eq.","w":590,"a":0.0014},{"s":"1.6 eq.","w":600,"a":0.0001},{"s":"1.6 eq.","w":610,"a":-0.0014},{"s":"1.6 eq.","w":622,"a":-0.0031},{"s":"1.6 eq.","w":630,"a":-0.0044},{"s":"1.6 eq.","w":640,"a":-0.0059},{"s":"1.6 eq.","w":650,"a":-0.0073},
      {"s":"1.8 eq.","w":500,"a":-0.002},{"s":"1.8 eq.","w":510,"a":-0.0008},{"s":"1.8 eq.","w":520,"a":0.0005},{"s":"1.8 eq.","w":530,"a":0.0017},{"s":"1.8 eq.","w":540,"a":0.0027},{"s":"1.8 eq.","w":550,"a":0.0033},{"s":"1.8 eq.","w":560,"a":0.0035},{"s":"1.8 eq.","w":570,"a":0.0034},{"s":"1.8 eq.","w":580,"a":0.0028},{"s":"1.8 eq.","w":590,"a":0.0018},{"s":"1.8 eq.","w":600,"a":0.0005},{"s":"1.8 eq.","w":610,"a":-0.001},{"s":"1.8 eq.","w":622,"a":-0.0027},{"s":"1.8 eq.","w":630,"a":-0.004},{"s":"1.8 eq.","w":640,"a":-0.0055},{"s":"1.8 eq.","w":650,"a":-0.0069},
      {"s":"2.0 eq.","w":500,"a":-0.0007},{"s":"2.0 eq.","w":510,"a":0.0005},{"s":"2.0 eq.","w":520,"a":0.0018},{"s":"2.0 eq.","w":530,"a":0.003},{"s":"2.0 eq.","w":540,"a":0.004},{"s":"2.0 eq.","w":550,"a":0.0046},{"s":"2.0 eq.","w":560,"a":0.0048},{"s":"2.0 eq.","w":570,"a":0.0047},{"s":"2.0 eq.","w":580,"a":0.0041},{"s":"2.0 eq.","w":590,"a":0.0031},{"s":"2.0 eq.","w":600,"a":0.0018},{"s":"2.0 eq.","w":610,"a":0.0003},{"s":"2.0 eq.","w":622,"a":-0.0014},{"s":"2.0 eq.","w":630,"a":-0.0027},{"s":"2.0 eq.","w":640,"a":-0.0042},{"s":"2.0 eq.","w":650,"a":-0.0056},
      {"s":"3.0 eq.","w":500,"a":-0.0013},{"s":"3.0 eq.","w":510,"a":-0.0001},{"s":"3.0 eq.","w":520,"a":0.0012},{"s":"3.0 eq.","w":530,"a":0.0024},{"s":"3.0 eq.","w":540,"a":0.0034},{"s":"3.0 eq.","w":550,"a":0.004},{"s":"3.0 eq.","w":560,"a":0.0042},{"s":"3.0 eq.","w":570,"a":0.0041},{"s":"3.0 eq.","w":580,"a":0.0035},{"s":"3.0 eq.","w":590,"a":0.0025},{"s":"3.0 eq.","w":600,"a":0.0012},{"s":"3.0 eq.","w":610,"a":-0.0003},{"s":"3.0 eq.","w":622,"a":-0.002},{"s":"3.0 eq.","w":630,"a":-0.0033},{"s":"3.0 eq.","w":640,"a":-0.0048},{"s":"3.0 eq.","w":650,"a":-0.0062}
    ]
  },
  "resolve": {"scale": {"color": "independent"}, "legend": {"color": "independent"}},
  "vconcat": [
    {
      "spacing": 7,
      "resolve": {"scale": {"color": "independent"}, "legend": {"color": "independent"}},
      "vconcat": [
        {
          "spacing": 0,
          "resolve": {"scale": {"color": "independent"}, "legend": {"color": "independent"}},
          "hconcat": [
            {"width": 1, "height": 1, "view": {"stroke": null}, "data": {"values": []}, "mark": "point"},
            {
              "width": 310,
              "height": 230,
              "view": {"stroke": "#000", "strokeWidth": 2},
              "title": {"text": "(a)", "anchor": "start", "frame": "group", "dx": -137, "offset": -8, "fontSize": 13, "fontWeight": "normal"},
              "encoding": {
                "x": {"field": "w", "type": "quantitative", "title": "Wavelength [nm]",
                  "scale": {"domain": [265, 480], "nice": false, "zero": false},
                  "axis": {"values": [275, 300, 325, 350, 375, 400, 425, 450, 475], "format": "d",
                    "labelExpr": "datum.value % 50 == 0 ? datum.label : ''",
                    "tickSize": {"condition": {"test": "datum.value % 50 != 0", "value": 3}, "value": 5},
                    "labelFontSize": 14, "titleFontSize": 18, "labelPadding": 2, "titlePadding": 11, "domainWidth": 2, "tickWidth": 1.5}},
                "y": {"field": "a", "type": "quantitative", "title": "Absorbance (a.u.)",
                  "scale": {"domain": [0, 2.5], "nice": false},
                  "axis": {"values": [0, 0.25, 0.5, 0.75, 1, 1.25, 1.5, 1.75, 2, 2.25, 2.5], "format": ".1f",
                    "labelExpr": "round(datum.value*100) % 50 == 0 ? datum.label : ''",
                    "tickSize": {"condition": {"test": "round(datum.value*100) % 50 != 0", "value": 3}, "value": 5},
                    "labelFontSize": 14, "titleFontSize": 18, "labelPadding": 3, "titlePadding": 13.5, "domainWidth": 2, "tickWidth": 1.5}}
              },
              "layer": [
                {
                  "data": {"name": "uv"},
                  "mark": {"type": "line", "strokeWidth": 1.2, "interpolate": "monotone"},
                  "encoding": {
                    "color": {"field": "s", "type": "nominal",
                      "scale": {"domain": ["LCu","0.1 eq.","0.2 eq.","0.3 eq.","0.4 eq.","0.5 eq.","0.6 eq.","0.7 eq.","0.8 eq.","0.9 eq.","1.0 eq.","1.2 eq.","1.4 eq.","1.6 eq.","1.8 eq.","2.0 eq.","3.0 eq."],
                        "range": ["#1a1a1a","#e8262e","#1e1ee0","#148c8c","#e619d9","#8c8c14","#2b2b96","#8c1414","#d91466","#1e8c1e","#1e3cc8","#e6a01e","#a01ea0","#6414c8","#3c3c3c","#e62828","#3232e6"]},
                      "legend": {"title": null, "orient": "none", "legendX": 254, "legendY": 7.3, "padding": 0, "symbolType": "stroke", "symbolSize": 441, "symbolStrokeWidth": 1.3, "labelFontSize": 9.5, "labelOffset": 2, "clipHeight": 11.4, "rowPadding": 0}}
                  }
                },
                {
                  "data": {"name": "shafts"},
                  "mark": {"type": "rule", "strokeWidth": 2.5, "color": "#000"},
                  "encoding": {"y2": {"field": "a2"}}
                },
                {
                  "data": {"name": "heads"},
                  "mark": {"type": "point", "filled": true, "color": "#000", "opacity": 1, "size": 45},
                  "encoding": {"shape": {"field": "dir", "type": "nominal", "scale": {"domain": ["up", "down"], "range": ["triangle-up", "triangle-down"]}, "legend": null}}
                }
              ]
            }
          ]
        },
        {
          "spacing": 0,
          "hconcat": [
            {"width": 1, "height": 1, "view": {"stroke": null}, "data": {"values": []}, "mark": "point"},
            {
              "spacing": 64,
              "bounds": "flush",
              "hconcat": [
                {
                  "width": 210,
                  "height": 153,
                  "view": {"stroke": "#000", "strokeWidth": 1.5},
                  "title": {"text": "(b)", "anchor": "start", "frame": "group", "dx": -48, "offset": 2.5, "fontSize": 13, "fontWeight": "normal"},
                  "data": {"name": "titration"},
                  "mark": {"type": "point", "shape": "diamond", "filled": true, "size": 30, "color": "#1414c8", "opacity": 1},
                  "encoding": {
                    "x": {"field": "eq", "type": "quantitative", "title": "Equiv. of Mg(NO₃)₂",
                      "scale": {"domain": [0, 2.24], "nice": false, "zero": false},
                      "axis": {"values": [0, 0.25, 0.5, 0.75, 1, 1.25, 1.5, 1.75, 2], "format": ".1f",
                        "labelExpr": "round(datum.value*100) % 50 == 0 ? datum.label : ''",
                        "tickSize": {"condition": {"test": "round(datum.value*100) % 50 != 0", "value": 2}, "value": 4},
                        "labelFontSize": 9.5, "titleFontSize": 12.5, "labelPadding": 2, "titlePadding": 4, "domainWidth": 1.5, "tickWidth": 1.2}},
                    "y": {"field": "shift", "type": "quantitative", "title": "Chemical shift (a.u.)",
                      "scale": {"domain": [0.22, 0.36], "nice": false, "zero": false},
                      "axis": {"values": [0.22, 0.23, 0.24, 0.25, 0.26, 0.27, 0.28, 0.29, 0.3, 0.31, 0.32, 0.33, 0.34, 0.35, 0.36], "format": ".2f",
                        "labelExpr": "round(datum.value*100) % 2 == 0 ? datum.label : ''",
                        "tickSize": {"condition": {"test": "round(datum.value*100) % 2 != 0", "value": 2}, "value": 4},
                        "labelFontSize": 9.5, "titleFontSize": 12.5, "labelPadding": 2, "titlePadding": 5, "domainWidth": 1.5, "tickWidth": 1.2}}
                  }
                },
                {
                  "width": 208,
                  "height": 153,
                  "view": {"stroke": "#000", "strokeWidth": 1.5},
                  "encoding": {
                    "x": {"field": "xh", "type": "quantitative", "title": "Host/(Host+Guest)",
                      "scale": {"domain": [0.11, 1.012], "nice": false, "zero": false},
                      "axis": {"values": [0.2, 0.3, 0.4, 0.5, 0.6, 0.7, 0.8, 0.9, 1.0], "format": ".1f",
                        "labelExpr": "round(datum.value*10) % 2 == 0 ? datum.label : ''",
                        "tickSize": {"condition": {"test": "round(datum.value*10) % 2 != 0", "value": 2}, "value": 4},
                        "labelFontSize": 9.5, "titleFontSize": 12.5, "labelPadding": 2, "titlePadding": 5, "domainWidth": 1.5, "tickWidth": 1.2}},
                    "y": {"field": "v", "type": "quantitative", "title": "Δδ • Host/(Host+Guest)",
                      "scale": {"domain": [0, 0.13], "nice": false, "zero": false},
                      "axis": {"values": [0, 0.01, 0.02, 0.03, 0.04, 0.05, 0.06, 0.07, 0.08, 0.09, 0.1, 0.11, 0.12], "format": ".2f",
                        "labelExpr": "round(datum.value*100) % 2 == 0 ? datum.label : ''",
                        "tickSize": {"condition": {"test": "round(datum.value*100) % 2 != 0", "value": 1.5}, "value": 3},
                        "labelFontSize": 9.5, "titleFontSize": 12, "labelPadding": 1, "titlePadding": 1, "domainWidth": 1.5, "tickWidth": 1.2}}
                  },
                  "layer": [
                    {"data": {"name": "jobfit"}, "mark": {"type": "line", "color": "#e58a8a", "strokeWidth": 1, "interpolate": "monotone"}},
                    {"data": {"name": "job"}, "mark": {"type": "point", "shape": "diamond", "filled": true, "size": 30, "color": "#1414c8", "opacity": 1}}
                  ]
                }
              ]
            }
          ]
        }
      ]
    },
    {
      "spacing": 0,
      "resolve": {"scale": {"color": "independent"}, "legend": {"color": "independent"}},
      "hconcat": [
        {"width": 92, "height": 1, "view": {"stroke": null}, "data": {"values": []}, "mark": "point"},
        {
          "width": 288,
          "height": 214,
          "view": {"stroke": "#000", "strokeWidth": 2},
          "title": {"text": "(C)", "anchor": "start", "frame": "group", "dx": -59, "offset": 2.5, "fontSize": 11, "fontWeight": "bold"},
          "data": {"name": "vis"},
          "mark": {"type": "line", "strokeWidth": 1, "interpolate": "monotone"},
          "encoding": {
            "x": {"field": "w", "type": "quantitative", "title": "Wavelength [nm]",
              "scale": {"domain": [500, 650], "nice": false, "zero": false},
              "axis": {"values": [500, 525, 550, 575, 600, 625, 650], "format": "d",
                "labelExpr": "datum.value % 50 == 0 ? datum.label : ''",
                "tickSize": {"condition": {"test": "datum.value % 50 != 0", "value": 3}, "value": 5},
                "labelFontSize": 10, "titleFontSize": 13.5, "labelPadding": 2, "titlePadding": 6, "domainWidth": 2, "tickWidth": 1.5}},
            "y": {"field": "a", "type": "quantitative", "title": "Absorbance (a.u.)",
              "scale": {"domain": [-0.01, 0.02], "nice": false, "zero": false},
              "axis": {"values": [-0.01, -0.005, 0, 0.005, 0.01, 0.015, 0.02], "format": ".2f",
                "labelExpr": "round(datum.value*1000) % 10 == 0 ? replace(datum.label, '\u2212', '-') : ''",
                "tickSize": {"condition": {"test": "round(datum.value*1000) % 10 != 0", "value": 3}, "value": 5},
                "labelFontSize": 9.5, "titleFontSize": 13.5, "labelPadding": 4, "titlePadding": 12.5, "domainWidth": 2, "tickWidth": 1.5}},
            "color": {"field": "s", "type": "nominal",
              "scale": {"domain": ["LCu","0.1 eq.","0.2 eq.","0.3 eq.","0.4 eq.","0.5 eq.","0.6 eq.","0.7 eq.","0.8 eq.","0.9 eq.","1.0 eq.","1.2 eq.","1.4 eq.","1.6 eq.","1.8 eq.","2.0 eq.","3.0 eq."],
                "range": ["#1a1a1a","#e8262e","#1e1ee0","#148c8c","#e619d9","#8c8c14","#2b2b96","#8c1414","#d91466","#1e8c1e","#1e3cc8","#e6a01e","#a01ea0","#6414c8","#3c3c3c","#e62828","#3232e6"]},
              "legend": {"title": null, "orient": "none", "legendX": 232, "legendY": 3.7, "padding": 3, "fillColor": "#fff", "symbolType": "stroke", "symbolSize": 361, "symbolStrokeWidth": 1.2, "labelFontSize": 9, "labelOffset": 2, "clipHeight": 10.6, "rowPadding": 0}}
          }
        }
      ]
    }
  ],
  "spacing": 32
}
